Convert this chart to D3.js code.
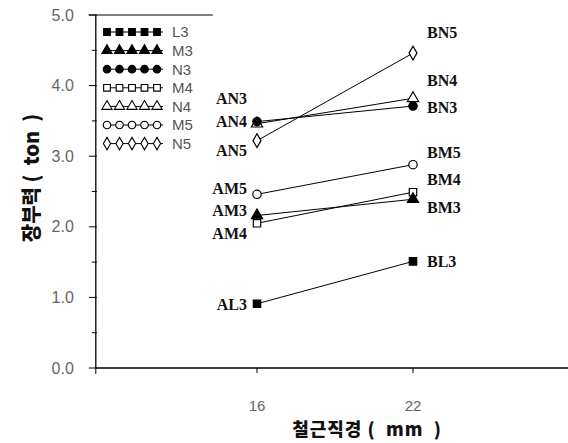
<!DOCTYPE html>
<html>
<head>
<meta charset="utf-8">
<script src="https://cdn.jsdelivr.net/npm/d3@7"></script>
<style>
  body { margin: 0; background: #fff; }
  .tick-label { font-family: "Liberation Sans", sans-serif; font-size: 15px; fill: #666; }
  .pt-label { font-family: "Liberation Serif", serif; font-weight: bold; font-size: 16px; fill: #111; }
  .legend-label { font-family: "Liberation Sans", sans-serif; font-size: 15px; fill: #555; }
  .title { font-family: "Noto Sans CJK KR", serif; font-weight: 900; font-size: 19px; fill: #111; }
</style>
</head>
<body>
<svg id="chart" width="568" height="443"></svg>
<script>
const diameters = [16, 22];
const seriesNames = ["L3", "M3", "N3", "M4", "N4", "M5", "N5"];
const seriesValues = {
  L3: [0.91, 1.51],
  M3: [2.16, 2.39],
  N3: [3.49, 3.71],
  M4: [2.05, 2.49],
  N4: [3.46, 3.82],
  M5: [2.46, 2.88],
  N5: [3.22, 4.46]
};
const drawOrder = ["L3", "M4", "M3", "M5", "N4", "N3", "N5"];
const yTicks = [0, 1, 2, 3, 4, 5];
const yMinorTicks = [0.5, 1.5, 2.5, 3.5, 4.5];
const leftLabels = [
  { text: "AN3", v: 3.82 }, { text: "AN4", v: 3.49 }, { text: "AN5", v: 3.08 },
  { text: "AM5", v: 2.55 }, { text: "AM3", v: 2.23 }, { text: "AM4", v: 1.90 },
  { text: "AL3", v: 0.90 }
];
const rightLabels = [
  { text: "BN5", v: 4.75 }, { text: "BN4", v: 4.08 }, { text: "BN3", v: 3.69 },
  { text: "BM5", v: 3.05 }, { text: "BM4", v: 2.67 }, { text: "BM3", v: 2.27 },
  { text: "BL3", v: 1.51 }
];

const markerType = {
  L3: { shape: d3.symbolSquare, fill: true },
  M3: { shape: d3.symbolTriangle, fill: true },
  N3: { shape: d3.symbolCircle, fill: true },
  M4: { shape: d3.symbolSquare, fill: false },
  N4: { shape: d3.symbolTriangle, fill: false },
  M5: { shape: d3.symbolCircle, fill: false },
  N5: { shape: d3.symbolDiamond, fill: false }
};

const svg = d3.select("#chart");
const x = d3.scaleLinear().domain([16, 22]).range([257, 413]);
const y = d3.scaleLinear().domain([0, 5]).range([368, 15]);
const xLeft = 9.8, xRight = 28;

// axes
const yAxis = svg.append("g").attr("transform", `translate(${x(xLeft)},0)`);
yAxis.append("line").attr("y1", y(0)).attr("y2", y(5)).attr("stroke", "#000").attr("stroke-width", 1.3);
yAxis.selectAll(".maj").data(yTicks).enter().append("line")
  .attr("x1", -7).attr("x2", 1).attr("y1", d => y(d)).attr("y2", d => y(d))
  .attr("stroke", "#000");
yAxis.selectAll(".min").data(yMinorTicks).enter().append("line")
  .attr("x1", -4).attr("x2", 1).attr("y1", d => y(d)).attr("y2", d => y(d))
  .attr("stroke", "#000");
yAxis.selectAll("text").data(yTicks).enter().append("text")
  .attr("class", "tick-label").style("font-size", "16px")
  .attr("x", -22).attr("y", d => y(d)).attr("dy", "0.35em")
  .attr("text-anchor", "end")
  .text(d => d.toFixed(1));

// top border
svg.append("line").attr("x1", x(xLeft) - 7).attr("x2", x(14.3)).attr("y1", y(5)).attr("y2", y(5))
  .attr("stroke", "#000");

const xAxis = svg.append("g").attr("transform", `translate(0,${y(0)})`);
xAxis.append("line").attr("x1", x(xLeft)).attr("x2", x(xRight)).attr("stroke", "#000").attr("stroke-width", 1.3);
xAxis.selectAll(".tk").data(diameters).enter().append("line")
  .attr("x1", d => x(d)).attr("x2", d => x(d)).attr("y1", 0).attr("y2", 5)
  .attr("stroke", "#000");
xAxis.append("line").attr("x1", x(xLeft)).attr("x2", x(xLeft)).attr("y1", 0).attr("y2", 6).attr("stroke", "#000");
xAxis.selectAll("text").data(diameters).enter().append("text")
  .attr("class", "tick-label")
  .attr("x", d => x(d)).attr("y", 43)
  .attr("text-anchor", "middle")
  .text(d => d);

// titles
svg.append("text").attr("class", "title")
  .attr("x", 367).attr("y", 436).attr("text-anchor", "middle")
  .attr("xml:space", "preserve").style("letter-spacing", "1px").style("font-size", "18px")
  .text("철근직경 (  mm  )");
svg.append("text").attr("class", "title")
  .attr("transform", "translate(32,178) rotate(-90)")
  .attr("text-anchor", "middle").attr("dy", "0.35em")
  .attr("xml:space", "preserve").style("font-size", "20px")
  .text("장부력 (  ton  )");

// series lines + markers
const line = d3.line().x((d, i) => x(diameters[i])).y(d => y(d));
const sym = d3.symbol().size(55);

drawOrder.forEach(name => {
  svg.append("path").attr("d", line(seriesValues[name]))
    .attr("fill", "none").attr("stroke", "#000").attr("stroke-width", 1);
});
drawOrder.forEach(name => {
  const mt = markerType[name];
  svg.selectAll(null).data(seriesValues[name]).enter().append("path")
    .attr("transform", (d, i) => `translate(${x(diameters[i])},${y(d)})`)
    .attr("d", sym.type(mt.shape)())
    .attr("fill", mt.fill ? "#000" : "#fff")
    .attr("stroke", "#000").attr("stroke-width", 1.2);
});

// point labels
svg.selectAll(".ll").data(leftLabels).enter().append("text")
  .attr("class", "pt-label")
  .attr("x", x(16) - 10).attr("y", d => y(d.v)).attr("dy", "0.35em")
  .attr("text-anchor", "end")
  .text(d => d.text);
svg.selectAll(".rl").data(rightLabels).enter().append("text")
  .attr("class", "pt-label")
  .attr("x", x(22) + 14).attr("y", d => y(d.v)).attr("dy", "0.35em")
  .text(d => d.text);

// legend
const legend = svg.append("g").attr("transform", "translate(103,32)");
const legendSym = d3.symbol().size(45);
seriesNames.forEach((name, i) => {
  const g = legend.append("g").attr("transform", `translate(0,${i * 18.6})`);
  g.append("line").attr("x1", 0).attr("x2", 60).attr("stroke", "#000");
  const mt = markerType[name];
  g.selectAll("path").data(d3.range(5)).enter().append("path")
    .attr("transform", k => `translate(${k * 12.5 + 4},0)`)
    .attr("d", legendSym.type(mt.shape)())
    .attr("fill", mt.fill ? "#000" : "#fff")
    .attr("stroke", "#000").attr("stroke-width", 1.1);
  g.append("text").attr("class", "legend-label")
    .attr("x", 69).attr("dy", "0.36em").text(name);
});
</script>
</body>
</html>
